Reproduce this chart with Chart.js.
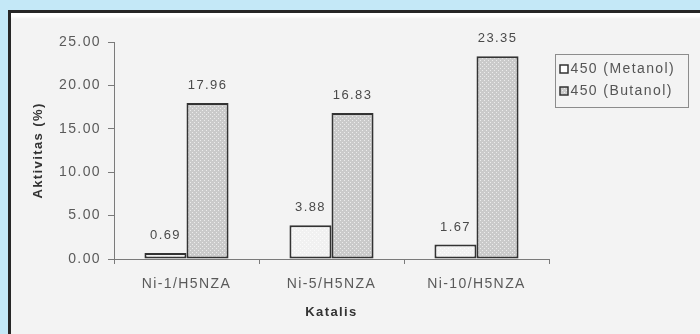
<!DOCTYPE html>
<html>
<head>
<meta charset="utf-8">
<script src="https://cdn.jsdelivr.net/npm/chart.js@4.4.1/dist/chart.umd.min.js"></script>
<style>
  html, body { margin: 0; padding: 0; }
  body { width: 700px; height: 334px; background: #c4e8f7; position: relative; overflow: hidden; }
  #panel {
    position: absolute; left: 8px; top: 10px; width: 720px; height: 360px;
    border-top: 3px solid #262626; border-left: 3px solid #262626;
    background: linear-gradient(#ffffff 0px, #ffffff 3px, #f3f3f3 6px, #f3f3f3 100%);
  }
  #wrap { position: absolute; left: 0; top: 0; width: 700px; height: 334px; }
</style>
</head>
<body>
<div id="panel"></div>
<div id="wrap"><canvas id="chart" width="700" height="334"></canvas></div>
<script>
// Catalyst activity data
const categories = ['Ni-1/H5NZA', 'Ni-5/H5NZA', 'Ni-10/H5NZA'];
const metanol = [0.69, 3.88, 1.67];
const butanol = [17.96, 16.83, 23.35];
const seriesNames = ['450 (Metanol)', '450 (Butanol)'];
const yMin = 0;
const yMax = 25;
const yStep = 5;
const yTitle = 'Aktivitas (%)';
const xTitle = 'Katalis';

const FONT = 'Arial, "Liberation Sans", sans-serif';

// Fine dotted lattice fills for the bars
function makePattern(base, dot) {
  const c = document.createElement('canvas');
  c.width = 4; c.height = 4;
  const g = c.getContext('2d');
  g.fillStyle = base; g.fillRect(0, 0, 4, 4);
  g.fillStyle = dot;
  g.fillRect(0, 0, 1, 1);
  g.fillRect(2, 2, 1, 1);
  return document.getElementById('chart').getContext('2d').createPattern(c, 'repeat');
}
const lightFill = makePattern('#f1f1f1', '#fbfbfb');
const darkFill = makePattern('#cacaca', '#ececec');

// Slightly spread text on the chart canvas
const spacingPlugin = {
  id: 'spacing',
  beforeUpdate(chart) { chart.ctx.letterSpacing = '1.4px'; },
  beforeDraw(chart) { chart.ctx.letterSpacing = '1.4px'; }
};

// Value labels above each bar
const valueLabels = {
  id: 'valueLabels',
  afterDatasetsDraw(chart) {
    const ctx = chart.ctx;
    ctx.save();
    ctx.font = '13px ' + FONT;
    ctx.fillStyle = '#4a4a4a';
    ctx.textAlign = 'center';
    ctx.textBaseline = 'bottom';
    chart.data.datasets.forEach((ds, i) => {
      chart.getDatasetMeta(i).data.forEach((bar, j) => {
        ctx.fillText(ds.data[j].toFixed(2), bar.x, bar.y - 11);
      });
    });
    ctx.restore();
  }
};

// Boxed legend to the right of the plot
const boxLegend = {
  id: 'boxLegend',
  afterDraw(chart) {
    const ctx = chart.ctx;
    const area = chart.chartArea;
    const x0 = area.right + 6.5, y0 = 54.5, w = 133, h = 53;
    ctx.save();
    ctx.strokeStyle = '#8c8c8c';
    ctx.lineWidth = 1;
    ctx.strokeRect(x0, y0, w, h);
    ctx.font = '14px ' + FONT;
    ctx.textAlign = 'left';
    ctx.textBaseline = 'middle';
    chart.data.datasets.forEach((ds, i) => {
      const cy = y0 + 14.5 + i * 22;
      ctx.fillStyle = i === 0 ? '#ffffff' : ds.backgroundColor;
      ctx.fillRect(x0 + 4.5, cy - 4, 8, 8);
      ctx.strokeStyle = '#333333';
      ctx.lineWidth = 1.5;
      ctx.strokeRect(x0 + 4.5, cy - 4, 8, 8);
      ctx.fillStyle = '#555555';
      ctx.fillText(ds.label, x0 + 15, cy);
    });
    ctx.restore();
  }
};

new Chart(document.getElementById('chart'), {
  type: 'bar',
  data: {
    labels: categories,
    datasets: [
      { label: seriesNames[0], data: metanol, backgroundColor: lightFill,
        borderColor: '#333333', borderWidth: 2, borderSkipped: false },
      { label: seriesNames[1], data: butanol, backgroundColor: darkFill,
        borderColor: '#333333', borderWidth: 2, borderSkipped: false }
    ]
  },
  options: {
    responsive: false,
    animation: false,
    events: [],
    layout: { padding: { left: 31, top: 42, right: 151, bottom: 14 } },
    datasets: { bar: { categoryPercentage: 0.58, barPercentage: 1.0 } },
    plugins: { legend: { display: false }, tooltip: { enabled: false } },
    scales: {
      x: {
        grid: { offset: true, drawOnChartArea: false, drawTicks: true, tickLength: 5, color: '#7a7a7a' },
        border: { color: '#7a7a7a', width: 1 },
        ticks: { font: { family: FONT, size: 14 }, color: '#5a5a5a', padding: 12, maxRotation: 0 },
        title: { display: true, text: xTitle, font: { family: FONT, size: 13, weight: 'bold' },
                 color: '#333333', padding: 0 },
        afterFit(scale) { scale.height = 61; }
      },
      y: {
        min: yMin, max: yMax,
        grid: { drawOnChartArea: false, drawTicks: true, tickLength: 6, color: '#7a7a7a' },
        border: { color: '#7a7a7a', width: 1 },
        ticks: { stepSize: yStep, font: { family: FONT, size: 14 }, color: '#5a5a5a', padding: 7,
                 callback: v => Number(v).toFixed(2) },
        title: { display: true, text: yTitle, font: { family: FONT, size: 13, weight: 'bold' },
                 color: '#333333', padding: 0 },
        afterFit(scale) { scale.width = 83; }
      }
    }
  },
  plugins: [spacingPlugin, valueLabels, boxLegend]
});
</script>
</body>
</html>
